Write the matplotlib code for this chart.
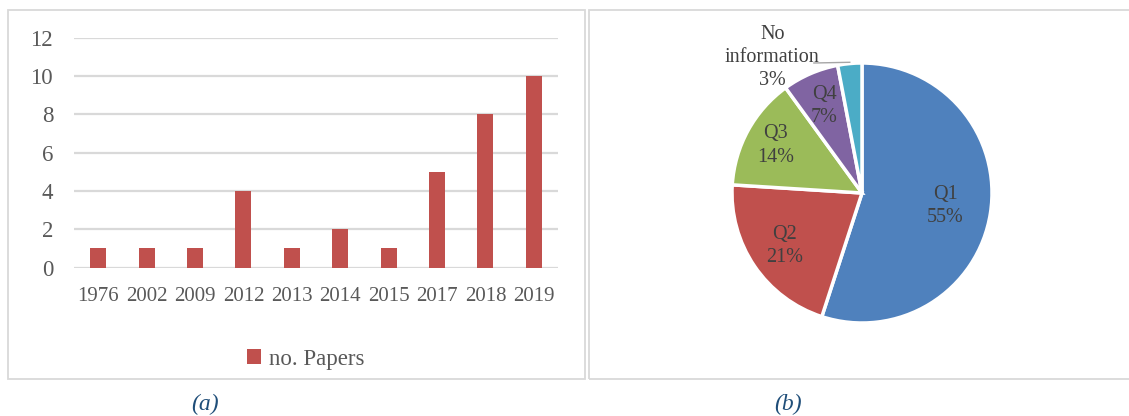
import numpy as np
import matplotlib
matplotlib.use("Agg")
import matplotlib.pyplot as plt
from matplotlib.patches import Rectangle

plt.rcParams["font.family"] = ["Liberation Serif", "DejaVu Serif"]

# ── data ──────────────────────────────────────────────────────────────
years = ["1976", "2002", "2009", "2012", "2013", "2014", "2015", "2017", "2018", "2019"]
papers = [1, 1, 1, 4, 1, 2, 1, 5, 8, 10]

quartiles = ["Q1", "Q2", "Q3", "Q4", "No\ninformation"]
shares = [55, 21, 14, 7, 3]

W, H = 1129, 416
fig = plt.figure(figsize=(W / 100, H / 100), dpi=100)

def fx(px):
    return px / W

def fy(py):
    return 1 - py / H

# ── panel frames ──────────────────────────────────────────────────────
for x0, x1 in [(7.5, 585), (588.5, 1135)]:
    fig.add_artist(Rectangle((fx(x0), fy(379)), fx(x1) - fx(x0), fy(10) - fy(379),
                             transform=fig.transFigure, fill=False,
                             edgecolor="#D9D9D9", lw=1.3))

# ── (a) bar chart ─────────────────────────────────────────────────────
ax = fig.add_axes([fx(74), fy(267.5), fx(558) - fx(74), fy(37.7) - fy(267.5)])
x = np.arange(len(years))
ax.bar(x, papers, width=0.33, color="#C0504D", label="no. Papers", zorder=3)
ax.set_xlim(-0.5, len(years) - 0.5)
ax.set_ylim(0, 12)
ax.set_yticks(range(0, 13, 2))
ax.set_xticks(x)
ax.set_xticklabels(years)
ax.yaxis.grid(True, color="#D9D9D9", lw=1.6, zorder=0)
for s in ax.spines.values():
    s.set_visible(False)
ax.tick_params(axis="y", length=0, pad=15, labelsize=16.5, labelcolor="#595959")
ax.tick_params(axis="x", length=0, pad=14, labelsize=15, labelcolor="#595959")
ax.legend(loc="center", bbox_to_anchor=(fx(306), fy(359)), bbox_transform=fig.transFigure,
          frameon=False, fontsize=16.5, labelcolor="#595959",
          handlelength=0.6, handleheight=0.6, handletextpad=0.35)

# ── (b) pie chart ─────────────────────────────────────────────────────
cx, cy, r = 862, 193, 130
pax = fig.add_axes([fx(cx - r), fy(cy + r), fx(2 * r), fy(0) - fy(2 * r)])
colors = ["#4F81BD", "#C0504D", "#9BBB59", "#8064A2", "#4BACC6"]
wedges, _ = pax.pie(shares, startangle=90, counterclock=False, colors=colors,
                    radius=1, wedgeprops=dict(edgecolor="white", linewidth=2.5))
pax.set_xlim(-1, 1)
pax.set_ylim(-1, 1)
pax.set_aspect("equal")
pax.axis("off")

label_r = [0.65, 0.72, 0.76, 0.73]
for w, name, pct, rr in zip(wedges[:4], quartiles[:4], shares[:4], label_r):
    ang = np.deg2rad((w.theta1 + w.theta2) / 2)
    pax.text(rr * np.cos(ang), rr * np.sin(ang), f"{name}\n{pct}%",
             ha="center", va="center", fontsize=14.5, color="#404040", linespacing=1.3)

# outside label with leader line for the small slice
w = wedges[4]
ang = np.deg2rad((w.theta1 + w.theta2) / 2)
pax.plot([np.cos(ang) * 1.0, -0.37], [np.sin(ang) * 1.01, 1.0], color="#A6A6A6", lw=1,
         clip_on=False)
pax.text(-0.69, 1.04, f"{quartiles[4]}\n{shares[4]}%", ha="center", va="center",
         fontsize=14.5, color="#404040", linespacing=1.3, clip_on=False)

# ── captions ──────────────────────────────────────────────────────────
fig.text(fx(205), fy(404), "(a)", ha="center", va="center", fontsize=17,
         style="italic", color="#1F4E79")
fig.text(fx(788), fy(404), "(b)", ha="center", va="center", fontsize=17,
         style="italic", color="#1F4E79")

fig.savefig("out.png", dpi=100)
